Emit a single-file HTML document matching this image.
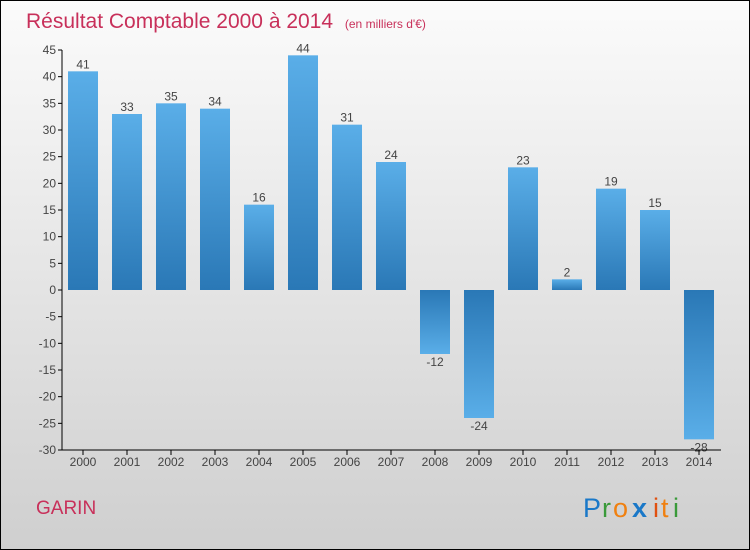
<!DOCTYPE html>
<html><head><meta charset="utf-8"><style>
body{margin:0}
svg{display:block;font-family:"Liberation Sans",sans-serif}
</style></head><body>
<svg id="c" width="750" height="550" xmlns="http://www.w3.org/2000/svg">
<defs>
<linearGradient id="bg" x1="0" y1="0" x2="0" y2="1"><stop offset="0" stop-color="#fbfbfb"/><stop offset="1" stop-color="#cfcfcf"/></linearGradient>
<linearGradient id="gp" x1="0" y1="0" x2="0" y2="1"><stop offset="0" stop-color="#5aaee8"/><stop offset="1" stop-color="#2a78b6"/></linearGradient>
<linearGradient id="gn" x1="0" y1="0" x2="0" y2="1"><stop offset="0" stop-color="#2a78b6"/><stop offset="1" stop-color="#5aaee8"/></linearGradient>
</defs>
<rect x="0.5" y="0.5" width="749" height="549" fill="url(#bg)" stroke="#000"/>
<text x="26" y="28" font-size="21" fill="#c8305a">Résultat Comptable 2000 à 2014 <tspan font-size="12" dx="6">(en milliers d'€)</tspan></text>
<g id="plot"></g>
<text x="36" y="514" font-size="19" fill="#c8305a">GARIN</text>
<g font-size="27">
<text x="583" y="517" fill="#1a78c8">P</text><text x="602" y="517" fill="#3a9a3a">r</text><text x="613" y="517" fill="#f08010">o</text><text x="632" y="517" fill="#1a78c8" font-weight="bold">x</text><text x="653" y="517" fill="#e05010">i</text><text x="661" y="517" fill="#f08010">t</text><text x="673" y="517" fill="#3a9a3a">i</text>
</g>
</svg>
<script>
const years=["2000","2001","2002","2003","2004","2005","2006","2007","2008","2009","2010","2011","2012","2013","2014"];
const values=[41,33,35,34,16,44,31,24,-12,-24,23,2,19,15,-28];
const yTicks=[45,40,35,30,25,20,15,10,5,0,-5,-10,-15,-20,-25,-30];
const NS="http://www.w3.org/2000/svg";
const g=document.getElementById('plot');
const y=v=>290-v*(400/75);
const x=i=>83+i*44;
function mk(t,a,txt){const e=document.createElementNS(NS,t);for(const k in a)e.setAttribute(k,a[k]);if(txt!=null)e.textContent=txt;g.appendChild(e);return e;}
values.forEach((v,i)=>{
 const r=mk('rect',{x:x(i)-15,y:Math.min(y(v),y(0)),width:30,height:Math.abs(y(v)-y(0)),fill:v>=0?'url(#gp)':'url(#gn)'});
 
 
 const t=mk('text',{x:x(i),y:v>=0?y(v)-3:y(v)+12,'font-size':12,fill:'#444','text-anchor':'middle'},String(v));
 
 
});
const ax=mk('line',{x1:62,y1:50,x2:62,y2:450,stroke:'#000'});


const bx=mk('line',{x1:62,y1:450,x2:721,y2:450,stroke:'#000'});


yTicks.forEach(v=>{
 mk('line',{x1:58,y1:y(v),x2:62,y2:y(v),stroke:'#000'});
 const t=mk('text',{x:56,y:y(v)+4,'font-size':12,fill:'#444','text-anchor':'end'},v);
 
 
});
years.forEach((yr,i)=>{
 mk('line',{x1:x(i),y1:450,x2:x(i),y2:455,stroke:'#000'});
 const t=mk('text',{x:x(i),y:466,'font-size':12,fill:'#444','text-anchor':'middle'},yr);
 
 
});
</script>
</body></html>
